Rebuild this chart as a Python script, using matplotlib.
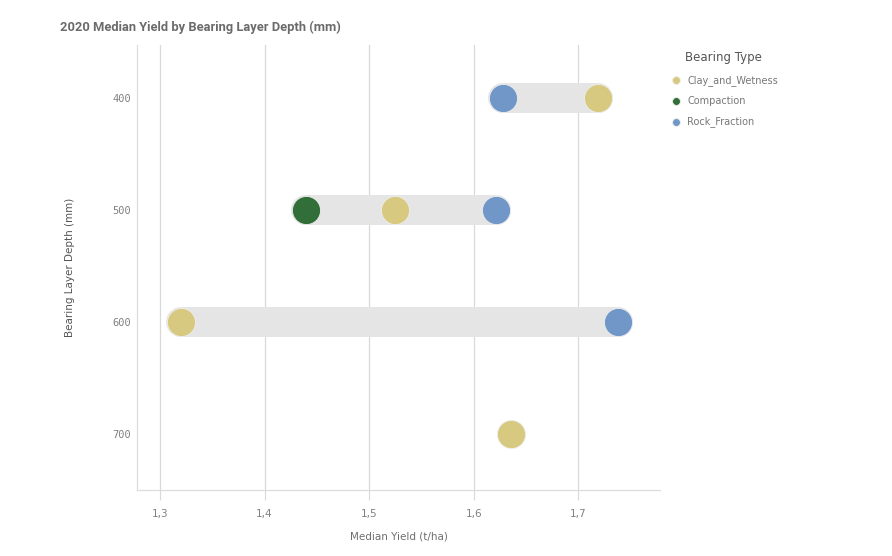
import matplotlib
matplotlib.use("Agg")
import matplotlib.pyplot as plt
from matplotlib.ticker import FuncFormatter, FixedLocator

depths = [400, 500, 600, 700]
series = ["Clay_and_Wetness", "Compaction", "Rock_Fraction"]
clay_depth = [400, 500, 600, 700]
clay_yield = [1.719, 1.525, 1.320, 1.636]
comp_depth = [500]
comp_yield = [1.440]
rock_depth = [400, 500, 600]
rock_yield = [1.628, 1.621, 1.738]
x_ticks = [1.3, 1.4, 1.5, 1.6, 1.7]

colors = {"Clay_and_Wetness": "#d8c981", "Compaction": "#326e38", "Rock_Fraction": "#7097c7"}
data = {
    "Clay_and_Wetness": (clay_depth, clay_yield),
    "Compaction": (comp_depth, comp_yield),
    "Rock_Fraction": (rock_depth, rock_yield),
}

fig = plt.figure(figsize=(8.92, 5.56), dpi=100)
ax = fig.add_axes([137/892, 66/556, (660-137)/892, (490-45)/556])

# range bars
for d in depths:
    vals = [y for s in series for dd, y in zip(*data[s]) if dd == d]
    if len(vals) > 1:
        ax.plot([min(vals), max(vals)], [d, d], color="#e5e5e5", lw=21.6,
                solid_capstyle="round", zorder=2)

for s in series:
    dd, yy = data[s]
    ax.scatter(yy, dd, s=410, color=colors[s], edgecolor="#eeeeee", linewidth=0.6,
               zorder=3, label=s)

ax.set_xlim(1.278, 1.778)
ax.set_ylim(750, 352.7)
ax.xaxis.set_major_locator(FixedLocator(x_ticks))
ax.xaxis.set_major_formatter(FuncFormatter(lambda v, p: f"{v:.1f}".replace(".", ",")))
ax.yaxis.set_major_locator(FixedLocator(depths))
ax.grid(axis="x", color="#d9d9d9", lw=0.9, zorder=0)
ax.set_axisbelow(True)
for sp in ["top", "right"]:
    ax.spines[sp].set_visible(False)
for sp in ["left", "bottom"]:
    ax.spines[sp].set_color("#dddddd")
    ax.spines[sp].set_linewidth(0.9)
ax.tick_params(axis="x", length=7, color="#d9d9d9", labelsize=7.5, labelcolor="#808080", pad=7)
ax.tick_params(axis="y", length=0, labelsize=7.5, labelcolor="#808080", pad=4)
for lab in ax.get_yticklabels():
    lab.set_fontfamily("DejaVu Sans Mono")

ax.set_xlabel("Median Yield (t/ha)", fontsize=7.5, color="#6e6e6e", labelpad=9)
ax.set_ylabel("Bearing Layer Depth (mm)", fontsize=7.5, color="#555555", labelpad=27)

fig.text(60/892, 1 - 27/556, "2020 Median Yield by Bearing Layer Depth (mm)", fontsize=9.3,
         fontweight="bold", family="Roboto", color="#6b6b6b", va="center", ha="left")

fig.text(685/892, 1 - 57/556, "Bearing Type", fontsize=8.5, color="#555555",
         va="center", ha="left")
leg = fig.legend(loc="upper left", bbox_to_anchor=(662/892, 1 - 71/556), frameon=False,
                 fontsize=7, markerscale=0.28, handletextpad=0.2, labelspacing=1.05,
                 borderaxespad=0)
for t in leg.get_texts():
    t.set_color("#777777")

fig.savefig("out.png", dpi=100)
